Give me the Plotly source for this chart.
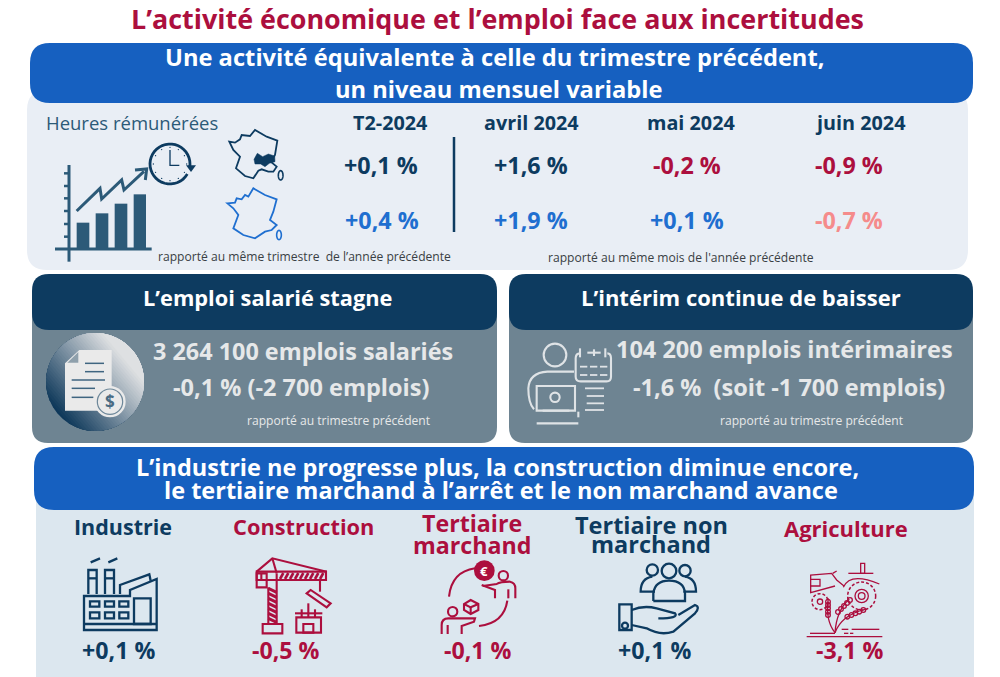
import math
import plotly.graph_objects as go

# ---------- content ----------
TITLE = "L’activité économique et l’emploi face aux incertitudes"
BANNER_TOP = ["Une activité équivalente à celle du trimestre précédent,", "un niveau mensuel variable"]
HOURS_LABEL = "Heures rémunérées"
PERIODS = ["T2-2024", "avril 2024", "mai 2024", "juin 2024"]
REGION_VALUES = ["+0,1 %", "+1,6 %", "-0,2 %", "-0,9 %"]
FRANCE_VALUES = ["+0,4 %", "+1,9 %", "+0,1 %", "-0,7 %"]
NOTE_QUARTER = "rapporté au même trimestre  de l’année précédente"
NOTE_MONTH = "rapporté au même mois de l'année précédente"
EMPLOY_HEAD = "L’emploi salarié stagne"
EMPLOY_LINES = ["3 264 100 emplois salariés", "-0,1 % (-2 700 emplois)"]
INTERIM_HEAD = "L’intérim continue de baisser"
INTERIM_LINES = ["104 200 emplois intérimaires", "-1,6 %  (soit -1 700 emplois)"]
NOTE_PREV = "rapporté au trimestre précédent"
BANNER_BOTTOM = ["L’industrie ne progresse plus, la construction diminue encore,",
                 "le tertiaire marchand à l’arrêt et le non marchand avance"]
SECTORS = [["Industrie"], ["Construction"], ["Tertiaire", "marchand"], ["Tertiaire non", "marchand"], ["Agriculture"]]
SECTOR_VALUES = ["+0,1 %", "-0,5 %", "-0,1 %", "+0,1 %", "-3,1 %"]

# ---------- palette ----------
NAVY = "#0d3b60"
STEEL = "#2c5a78"
BLUE = "#1660c0"
BRIGHT = "#1f6fd0"
RED = "#ac0f3e"
PINK = "#f58b8b"
SLATE = "#6e8492"
PALE = "#e9eef5"
ICE = "#dce7ef"
CHALK = "#e6e8e9"
FONT = "Open Sans"

shapes, notes = [], []


def text(x, y, s, size, color, weight=700, anchor="center"):
    notes.append(dict(x=x, y=y, xref="x", yref="y", text=s, showarrow=False, xanchor=anchor, yanchor="middle",
                      align="center", font=dict(family=FONT, size=size, color=color, weight=weight)))


def rrect(x0, y0, x1, y1, r, fill):
    p = (f"M{x0+r},{y0} L{x1-r},{y0} Q{x1},{y0} {x1},{y0+r} L{x1},{y1-r} Q{x1},{y1} {x1-r},{y1} "
         f"L{x0+r},{y1} Q{x0},{y1} {x0},{y1-r} L{x0},{y0+r} Q{x0},{y0} {x0+r},{y0} Z")
    shapes.append(dict(type="path", path=p, fillcolor=fill, line=dict(width=0), xref="x", yref="y", layer="below"))


class Icon:
    """Draws decorative pictograms, traced in a zoomed frame: px = ox + z/k."""
    def __init__(self, ox, oy, color, width, k=3.0):
        self.ox, self.oy, self.color, self.width, self.k = ox, oy, color, width, k

    def pt(self, x, y):
        return self.ox + x / self.k, self.oy + y / self.k

    def poly(self, pts, close=False, fill=None, width=None, color=None):
        q = [self.pt(*p) for p in pts]
        d = "M" + " L".join(f"{a:.2f},{b:.2f}" for a, b in q) + (" Z" if close else "")
        w = self.width if width is None else width
        shapes.append(dict(type="path", path=d, fillcolor=fill or "rgba(0,0,0,0)", xref="x", yref="y", layer="above",
                           line=dict(color=color or self.color, width=w)))

    def curve(self, d, width=None, color=None, fill=None):
        out = []
        for c in d:
            vals = [self.pt(c[i], c[i + 1]) for i in range(1, len(c), 2)]
            out.append(c[0] + " ".join(f"{a:.2f},{b:.2f}" for a, b in vals))
        shapes.append(dict(type="path", path=" ".join(out), fillcolor=fill or "rgba(0,0,0,0)", xref="x", yref="y",
                           layer="above", line=dict(color=color or self.color, width=self.width if width is None else width)))

    def circ(self, x, y, r, fill=None, width=None, color=None, dash=None):
        a, b = self.pt(x, y)
        rr = r / self.k
        w = self.width if width is None else width
        shapes.append(dict(type="circle", x0=a - rr, x1=a + rr, y0=b - rr, y1=b + rr, xref="x", yref="y", layer="above",
                           fillcolor=fill or "rgba(0,0,0,0)",
                           line=dict(color=color or self.color, width=w, dash=dash or "solid")))

    def arc(self, x, y, r, a0, a1, width=None, ry=None):
        n = 36
        pts = [(x + r * math.cos(math.radians(a0 + (a1 - a0) * i / n)),
                y + (ry or r) * math.sin(math.radians(a0 + (a1 - a0) * i / n))) for i in range(n + 1)]
        self.poly(pts, width=width)

    def rect(self, x0, y0, x1, y1, fill=None, width=None):
        self.poly([(x0, y0), (x1, y0), (x1, y1), (x0, y1)], close=True, fill=fill, width=width)


# ---------- panels ----------
rrect(27, 90, 968, 270, 20, PALE)
rrect(30, 43, 973, 103, 20, BLUE)
rrect(32, 290, 497, 443, 16, SLATE)
rrect(509, 290, 973, 443, 16, SLATE)
rrect(32, 274, 497, 330, 17, NAVY)
rrect(509, 274, 973, 330, 17, NAVY)
shapes.append(dict(type="rect", x0=36, x1=974, y0=490, y1=677, fillcolor=ICE, line=dict(width=0), xref="x", yref="y", layer="below"))
rrect(34, 447, 974, 510, 20, BLUE)

# ---------- text ----------
text(497, 18, TITLE, 26.9, RED)
text(494, 57, BANNER_TOP[0], 23.7, "white")
text(498, 89, BANNER_TOP[1], 23.7, "white")
text(44, 122, HOURS_LABEL, 18.5, STEEL, 400, "left")
col_x = [390, 531, 691, 860]
val_x = [381, 531, 687, 849]
for x, s in zip(col_x, PERIODS):
    text(x, 122, s, 19.8, NAVY)
row1_colors = [NAVY, NAVY, RED, RED]
row2_colors = [BRIGHT, BRIGHT, BRIGHT, PINK]
for x, s, c in zip(val_x, REGION_VALUES, row1_colors):
    text(x, 165, s, 23.3, c)
for x, s, c in zip(val_x, FRANCE_VALUES, row2_colors):
    text(x + (1 if x < 400 else 0), 220, s, 23.3, c)
text(304, 256, NOTE_QUARTER, 12.1, "#3a3f44", 400)
text(681, 257, NOTE_MONTH, 12.1, "#3a3f44", 400)
shapes.append(dict(type="line", x0=454, x1=454, y0=137, y1=232, xref="x", yref="y", line=dict(color=NAVY, width=2.5)))

text(267, 297, EMPLOY_HEAD, 21.8, "white")
text(741, 297, INTERIM_HEAD, 22, "white")
text(303, 351, EMPLOY_LINES[0], 23.4, CHALK)
text(301, 387, EMPLOY_LINES[1], 23.5, CHALK)
text(339, 420, NOTE_PREV, 12.1, CHALK, 400)
text(784, 349, INTERIM_LINES[0], 23.5, CHALK)
text(789, 387, INTERIM_LINES[1], 23.5, CHALK)
text(812, 420, NOTE_PREV, 12.1, CHALK, 400)

text(497, 467, BANNER_BOTTOM[0], 23.5, "white")
text(501, 490, BANNER_BOTTOM[1], 23.5, "white")

sec_colors = [NAVY, RED, RED, NAVY, RED]
sec_x = [123, 303, 472, 651, 846]
sec_y = [[526], [526], [523, 545], [525, 544], [528]]
sec_size = [21.5, 21.8, 23.2, 23.5, 22]
for names, x, ys, c, sz in zip(SECTORS, sec_x, sec_y, sec_colors, sec_size):
    for n, y in zip(names, ys):
        text(x, y, n, sz, c)
val_sec_x = [118, 286, 478, 654, 850]
for x, s, c in zip(val_sec_x, SECTOR_VALUES, sec_colors):
    text(x, 650, s, 23.2, c)

# ---------- hours chart pictogram ----------
ic = Icon(20, 100, STEEL, 3)
ic.poly([(147, 195), (147, 485)], width=3)
ic.poly([(105, 447), (395, 447)], width=3)
for zy in (220, 258, 295, 333, 372, 410):
    ic.poly([(132, zy), (147, zy)], width=2.5)
for x0, x1, top in ((170, 208, 368), (227, 265, 340), (284, 322, 311), (341, 378, 283)):
    ic.rect(x0, top, x1, 447, fill=STEEL, width=0)
ic.poly([(170, 333), (240, 265), (245, 297), (305, 240), (312, 270), (372, 214)], width=3)
ic.poly([(345, 210), (380, 207), (376, 240)], width=3)
clock = Icon(20, 100, NAVY, 2.8)
clock.arc(450, 192, 60, 30, 370)
clock.poly([(450, 150), (450, 196), (478, 196)], width=1.3)
for a in range(0, 360, 30):
    cx = 450 + 50 * math.cos(math.radians(a))
    cy = 192 + 50 * math.sin(math.radians(a))
    clock.circ(cx, cy, 2, fill=NAVY, width=0)
clock.poly([(498, 196), (528, 196), (513, 216)], close=True, fill=NAVY, width=0)

# ---------- maps ----------
m = Icon(20, 100, NAVY, 1.8)
m.poly([(628, 125), (645, 128), (660, 118), (665, 105), (690, 108), (705, 90), (740, 110), (772, 122), (765, 165),
        (752, 185), (770, 200), (760, 215), (745, 215), (725, 208), (715, 212), (700, 235), (675, 228), (648, 205),
        (660, 170), (640, 150)], close=True)
m.poly([(702, 178), (712, 160), (728, 170), (745, 162), (764, 168), (765, 185), (748, 190), (735, 200), (722, 192), (705, 192)],
       close=True, fill=NAVY, width=0.5)
m.arc(782, 226, 7, 0, 360, ry=14, width=1.6)
f = Icon(20, 100, BRIGHT, 1.8)
f.poly([(622, 310), (645, 308), (650, 295), (665, 298), (675, 285), (685, 290), (700, 265), (735, 285), (770, 298),
        (760, 335), (750, 360), (770, 375), (755, 390), (735, 395), (705, 415), (670, 405), (640, 385), (655, 345),
        (640, 325)], close=True)
f.arc(777, 405, 7, 0, 360, ry=14, width=1.6)

# ---------- payslip disc with diagonal shading ----------
cx, cy, R = 95, 382, 49
dark, light = (14, 56, 90), (222, 224, 226)
ang = math.radians(-40)
N = 40
for i in range(N):
    t = i / N
    d = -R + 2 * R * t
    half = math.acos(max(-1, min(1, d / R)))
    pts = [(cx + R * math.cos(ang + half * (1 - 2 * j / 40)), cy + R * math.sin(ang + half * (1 - 2 * j / 40)))
           for j in range(41)]
    tt = min(1, t * 1.15)
    col = tuple(int(a + (b - a) * tt) for a, b in zip(dark, light))
    shapes.append(dict(type="path", path="M" + " L".join(f"{a:.2f},{b:.2f}" for a, b in pts) + " Z",
                       fillcolor=f"rgb{col}", line=dict(width=0), xref="x", yref="y", layer="above"))
doc = Icon(30, 320, "#3f6580", 1.5)
doc.poly([(105, 130), (148, 90), (245, 90), (245, 272), (105, 272)], close=True, fill="#eaeaea", width=0)
doc.poly([(112, 128), (145, 128), (145, 96)], close=True, fill="#8fa0ac", width=0)
for a, b, y in ((165, 222, 130), (165, 222, 155), (125, 225, 180), (125, 195, 205), (125, 190, 232)):
    doc.poly([(a, y), (b, y)])
doc.circ(240, 245, 47, fill="#eaeaea", width=0)
doc.circ(240, 245, 38, width=1.2, color="#6d8799")
text(110, 401.5, "$", 17, "#4a6c84", 700)

# ---------- interim pictogram ----------
p = Icon(510, 320, "#dfe3e6", 2.1)
p.circ(135, 105, 34)
p.curve([("M", 72, 268), ("Q", 55, 250, 55, 205), ("Q", 58, 158, 112, 155), ("L", 192, 155)])
p.rect(80, 198, 195, 272)
p.circ(135, 232, 14)
p.poly([(98, 272), (178, 272)])
p.poly([(80, 310), (205, 310)])
p.poly([(205, 275), (205, 292)])
p.curve([("M", 210, 100), ("Q", 197, 100, 197, 115), ("L", 197, 170), ("Q", 197, 184, 212, 184), ("L", 290, 184),
         ("Q", 303, 184, 303, 170), ("L", 303, 115), ("Q", 303, 100, 292, 100)])
p.poly([(210, 85), (210, 112)])
p.poly([(286, 85), (286, 112)])
p.poly([(232, 98), (272, 98)])
p.poly([(252, 88), (252, 108)])
for yy in (140, 165):
    for a, b in ((210, 232), (240, 262), (270, 292)):
        p.poly([(a, yy), (b, yy)], width=1.8)
for a, yy in ((225, 205), (230, 228), (230, 250), (225, 270)):
    p.poly([(a, yy), (282, yy)], width=1.8)

# ---------- factory ----------
fa = Icon(60, 510, NAVY, 2.3)
fa.poly([(72, 258), (210, 258), (210, 240), (290, 207), (290, 360), (72, 360)], close=True)
fa.poly([(180, 252), (180, 225), (268, 193), (272, 212)])
fa.poly([(72, 342), (290, 342)])
fa.poly([(85, 252), (85, 180), (110, 180), (110, 252)])
fa.poly([(135, 252), (135, 180), (162, 180), (162, 252)])
fa.poly([(85, 205), (110, 205)])
fa.poly([(135, 205), (162, 205)])
fa.poly([(92, 157), (120, 145)])
fa.poly([(145, 157), (172, 145)])
for a, b in ((90, 118), (135, 162), (178, 205)):
    fa.rect(a, 274, b, 290)
    fa.rect(a, 307, b, 325)
fa.rect(222, 265, 272, 342)

# ---------- crane ----------
cr = Icon(60, 510, RED, 2.1)
cr.poly([(625, 232), (625, 342)])
cr.poly([(650, 190), (650, 342)])
for i in range(7):
    y0 = 235 + i * 15
    cr.poly([(625, y0), (650, y0 + 12)], width=3)
cr.rect(608, 342, 667, 370)
cr.poly([(590, 185), (637, 145), (800, 185)])
cr.poly([(637, 145), (650, 190)])
cr.poly([(590, 185), (798, 185), (798, 210), (590, 210)], close=True)
for i in range(9):
    x0 = 660 + i * 15
    cr.poly([(x0, 207), (x0 + 10, 189)], width=2.6)
cr.rect(590, 190, 620, 232)
cr.poly([(604, 190), (604, 210)])
cr.poly([(780, 210), (780, 245)])
cr.poly([(740, 250), (752, 240), (812, 280), (800, 292)], close=True)
cr.rect(709, 322, 783, 368)
cr.poly([(705, 310), (787, 310)])
for a, top in ((725, 298), (745, 280), (765, 298)):
    cr.poly([(a, top), (a, 322)])
cr.rect(730, 342, 760, 368)

# ---------- market services ----------
ms = Icon(400, 510, RED, 2.1)
ms.curve([("M", 147, 260), ("Q", 155, 185, 225, 175)])
ms.curve([("M", 322, 272), ("Q", 312, 340, 237, 348)])
ms.circ(253, 182, 31, fill=RED, width=0)
text(484.3, 570.5, "€", 13, "white", 700)
ms.circ(310, 197, 14)
ms.curve([("M", 245, 225), ("L", 285, 240), ("L", 285, 265)])
ms.curve([("M", 248, 228), ("L", 290, 222), ("Q", 300, 215, 330, 215), ("Q", 346, 218, 346, 235), ("L", 346, 265)])
ms.poly([(325, 238), (325, 265)])
ms.circ(158, 305, 14)
ms.curve([("M", 125, 372), ("L", 125, 345), ("Q", 125, 325, 145, 325), ("L", 185, 325), ("L", 225, 325), ("L", 222, 335),
          ("L", 185, 348), ("L", 185, 372)])
ms.poly([(143, 345), (143, 372)])
ms.poly([(212, 270), (235, 282), (235, 300), (212, 312), (192, 300), (192, 282)], close=True)
ms.poly([(192, 282), (212, 292), (235, 282)])
ms.poly([(212, 292), (212, 312)])

# ---------- non-market services ----------
nm = Icon(400, 510, NAVY, 2.3)
nm.circ(757, 180, 17)
nm.circ(807, 183, 22)
nm.circ(855, 182, 17)
nm.curve([("M", 760, 273), ("L", 760, 250), ("Q", 765, 212, 807, 212), ("Q", 852, 212, 855, 250), ("L", 855, 273), ("L", 760, 273)])
nm.curve([("M", 765, 245), ("L", 722, 245), ("Q", 722, 205, 757, 200)])
nm.curve([("M", 850, 245), ("L", 888, 245), ("Q", 888, 205, 855, 200)])
nm.rect(658, 283, 695, 360)
nm.circ(675, 347, 9)
nm.curve([("M", 695, 300), ("Q", 730, 285, 770, 295), ("L", 825, 310), ("Q", 838, 325, 775, 325)])
nm.curve([("M", 835, 315), ("L", 885, 285), ("Q", 902, 290, 885, 310), ("L", 820, 365), ("Q", 780, 378, 740, 355), ("L", 695, 345)])

# ---------- agriculture ----------
ag = Icon(700, 510, RED, 1.3)
ag.poly([(405, 228), (332, 248), (332, 195), (395, 190), (410, 210), (432, 228)])
ag.poly([(332, 208), (360, 208), (360, 228), (332, 228)])
ag.poly([(398, 190), (410, 183)])
ag.curve([("M", 430, 232), ("Q", 450, 185, 538, 222)])
ag.poly([(445, 190), (520, 190)])
ag.rect(482, 160, 494, 190)
ag.circ(485, 258, 42, dash="3px,2px", width=1.5)
ag.circ(485, 258, 20)
ag.circ(485, 258, 10)
ag.circ(360, 275, 24, dash="3px,2px", width=1.5)
ag.circ(360, 275, 8)
ag.curve([("M", 405, 368), ("Q", 375, 330, 385, 265)])
ag.curve([("M", 405, 368), ("Q", 410, 300, 448, 268)])
ag.curve([("M", 405, 368), ("Q", 425, 315, 495, 298)])
for k in range(5):
    ag.circ(384, 275 + k * 10, 7, width=1.3)
    ag.circ(450 - k * 9, 270 + k * 9, 7, width=1.3)
    ag.circ(490 - k * 12, 300 + k * 5, 7, width=1.3)
ag.poly([(320, 380), (547, 380)], width=1.4)
ag.poly([(330, 370), (405, 370)])
ag.poly([(455, 358), (538, 358)])
ag.poly([(425, 358), (445, 358)])
ag.poly([(432, 370), (445, 370)])
ag.poly([(450, 370), (460, 370)])

fig = go.Figure()
fig.update_layout(
    width=1000, height=677, margin=dict(l=0, r=0, t=0, b=0), paper_bgcolor="white", plot_bgcolor="white",
    xaxis=dict(range=[0, 1000], visible=False, fixedrange=True),
    yaxis=dict(range=[677, 0], visible=False, fixedrange=True),
    shapes=shapes, annotations=notes, showlegend=False, font=dict(family=FONT),
)
fig.write_html("out.html", config=dict(displayModeBar=False), post_script="document.body.style.margin='0';")
